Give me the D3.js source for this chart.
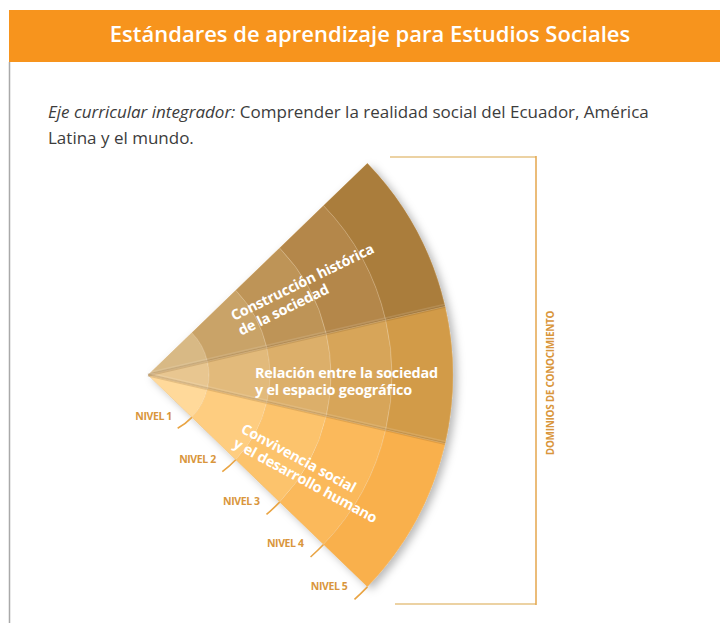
<!DOCTYPE html>
<html>
<head>
<meta charset="utf-8">
<script src="https://cdn.jsdelivr.net/npm/d3@7"></script>
<style>
  body { margin: 0; background: #fff; }
  svg { display: block; font-family: "Open Sans", sans-serif; }
</style>
</head>
<body>
<svg id="chart" width="720" height="623"></svg>
<script>
var title = "Estándares de aprendizaje para Estudios Sociales"
var introItalic = "Eje curricular integrador:"
var introLines = [" Comprender la realidad social del Ecuador, América", "Latina y el mundo."]

// dominios (top -> bottom), weight = share of the fan angle
var domains = [
  ["Construcción histórica", "de la sociedad"],
  ["Relación entre la sociedad", "y el espacio geográfico"],
  ["Convivencia social", "y el desarrollo humano"]
]
var domainWeights = [31, 26, 31]
var levels = ["NIVEL 1", "NIVEL 2", "NIVEL 3", "NIVEL 4", "NIVEL 5"]
var sideLabel = "DOMINIOS DE CONOCIMIENTO"

// inner -> outer ring colours for each domain
var palettes = [
  ["#d8b985", "#c9a368", "#be9457", "#b4874a", "#aa7d3c"],
  ["#e8c690", "#e2ba7b", "#dcaf6a", "#d7a559", "#d29b48"],
  ["#ffd99a", "#fecd80", "#fcc36c", "#fbb95b", "#f9b04c"]
]

var svg = d3.select("#chart")

// header
svg.append("rect")
  .attr("x", 9).attr("y", 10)
  .attr("width", 711).attr("height", 52)
  .attr("fill", "#f7941d")
svg.append("text")
  .attr("x", 370).attr("y", 42)
  .attr("text-anchor", "middle")
  .attr("fill", "#fff")
  .attr("font-size", 22)
  .attr("font-weight", 600)
  .text(title)

svg.append("line")
  .attr("x1", 9.5).attr("x2", 9.5)
  .attr("y1", 62).attr("y2", 623)
  .attr("stroke", "#a9a9a9").attr("stroke-width", 1.5)

var intro = svg.append("text")
  .attr("x", 48).attr("y", 118)
  .attr("fill", "#3c3c3c")
  .attr("font-size", 17)
intro.append("tspan").attr("font-style", "italic").text(introItalic)
intro.append("tspan").text(introLines[0])
svg.append("text")
  .attr("x", 48).attr("y", 144)
  .attr("fill", "#3c3c3c")
  .attr("font-size", 17)
  .text(introLines[1])

// fan
var cx = 148, cy = 375
var deg = Math.PI / 180
var r = d3.scaleLinear().domain([0, levels.length]).range([0, 305])

var pie = d3.pie().sort(null)
  .startAngle(46 * deg).endAngle(134 * deg)
  .value(function(d) { return d })
var slices = pie(domainWeights)

var defs = svg.append("defs")
var shadow = defs.append("filter").attr("id", "shadow")
  .attr("x", "-20%").attr("y", "-20%").attr("width", "140%").attr("height", "140%")
shadow.append("feDropShadow")
  .attr("dx", 4).attr("dy", 3).attr("stdDeviation", 4)
  .attr("flood-color", "#000").attr("flood-opacity", 0.28)

var fan = svg.append("g")
  .attr("transform", "translate(" + cx + "," + cy + ")")

var cells = []
slices.forEach(function(s, di) {
  levels.forEach(function(l, li) {
    cells.push({domain: di, level: li, startAngle: s.startAngle, endAngle: s.endAngle})
  })
})

var cellArc = d3.arc()
  .innerRadius(function(d) { return r(d.level) })
  .outerRadius(function(d) { return r(d.level + 1) })

var body = fan.append("g").attr("filter", "url(#shadow)")
body.append("path")
  .attr("d", d3.arc()({innerRadius: 0, outerRadius: r(levels.length),
    startAngle: slices[0].startAngle, endAngle: slices[slices.length - 1].endAngle}))
  .attr("fill", "#d29b48")

fan.selectAll("path.cell")
  .data(cells)
  .enter().append("path")
  .attr("class", "cell")
  .attr("d", cellArc)
  .attr("fill", function(d) { return palettes[d.domain][d.level] })
  .attr("stroke", "rgba(255,255,255,0.18)")
  .attr("stroke-width", 1)

// soft shading along the domain borders
slices.slice(1).forEach(function(s) {
  var a = s.startAngle
  fan.append("line")
    .attr("x1", 0).attr("y1", 0)
    .attr("x2", r(levels.length) * Math.sin(a))
    .attr("y2", -r(levels.length) * Math.cos(a))
    .attr("stroke", "rgba(110,70,20,0.18)")
    .attr("stroke-width", 3)
  fan.append("line")
    .attr("x1", 0).attr("y1", -2)
    .attr("x2", r(levels.length) * Math.sin(a))
    .attr("y2", -r(levels.length) * Math.cos(a) - 2)
    .attr("stroke", "rgba(255,255,255,0.12)")
    .attr("stroke-width", 2)
})

// level ticks and labels along the bottom edge
var edge = slices[slices.length - 1].endAngle
levels.forEach(function(l, i) {
  var rr = r(i + 1)
  var px = rr * Math.sin(edge), py = -rr * Math.cos(edge)
  fan.append("path")
    .attr("d", d3.arc()({innerRadius: rr, outerRadius: rr,
      startAngle: edge, endAngle: edge + 18 / rr}))
    .attr("fill", "none")
    .attr("stroke", "#e9a443").attr("stroke-width", 1.6)
  fan.append("text")
    .attr("x", px - 20).attr("y", py + 3)
    .attr("text-anchor", "end")
    .attr("fill", "#d9963c")
    .attr("font-size", 10.5)
    .attr("font-weight", 700)
    .attr("letter-spacing", -0.4)
    .text(l)
})

// domain labels
var labelPos = [[234, 321, -26], [255, 378, 0], [240, 432, 28.5]]
domains.forEach(function(lines, i) {
  var p = labelPos[i]
  var g = svg.append("g")
    .attr("transform", "translate(" + p[0] + "," + p[1] + ") rotate(" + p[2] + ")")
  g.selectAll("text")
    .data(lines)
    .enter().append("text")
    .attr("x", 0)
    .attr("y", function(d, j) { return j * 16.5 })
    .attr("fill", "#fff")
    .attr("font-size", 14.4)
    .attr("font-weight", 700)
    .attr("letter-spacing", -0.2)
    .text(function(d) { return d })
})

// bracket on the right
svg.append("line")
  .attr("x1", 390).attr("x2", 536).attr("y1", 157).attr("y2", 157)
  .attr("stroke", "#ecd2a3").attr("stroke-width", 2)
svg.append("line")
  .attr("x1", 395).attr("x2", 536).attr("y1", 604).attr("y2", 604)
  .attr("stroke", "#ecd2a3").attr("stroke-width", 2)
svg.append("line")
  .attr("x1", 536).attr("x2", 536).attr("y1", 156).attr("y2", 605)
  .attr("stroke", "#e4a64d").attr("stroke-width", 1.5)
svg.append("text")
  .attr("transform", "translate(554,383) rotate(-90)")
  .attr("text-anchor", "middle")
  .attr("fill", "#d9963c")
  .attr("font-size", 10)
  .attr("font-weight", 700)
  .attr("letter-spacing", -0.3)
  .text(sideLabel)
</script>
</body>
</html>
